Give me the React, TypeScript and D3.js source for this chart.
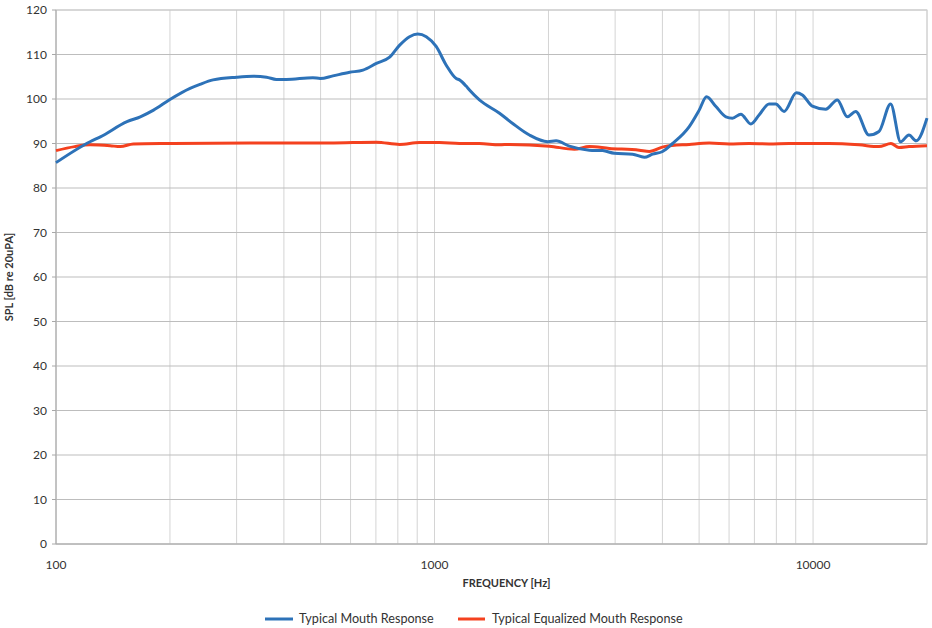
import React from 'react';
import * as d3 from 'd3';

// Typical mouth response (blue) — frequency [Hz], SPL [dB]
const mouthFreq = [
  100, 123, 131, 154, 167, 181, 200, 226, 240, 260, 300, 332, 360, 382, 406,
  477, 499, 539, 597, 647, 702, 761, 809, 859, 903, 951, 1010, 1074, 1141,
  1164, 1212, 1237, 1314, 1485, 1609, 1781, 1991, 2095, 2271, 2564, 2781,
  2986, 3337, 3583, 3767, 4003, 4255, 4709, 5003, 5231, 5539, 5885, 6125,
  6445, 6848, 7202, 7652, 7970, 8386, 9036, 9372, 9958, 10803, 11591, 12316,
  12963, 14053, 14933, 16032, 17033, 17919, 18733, 20000,
];
const mouthSpl = [
  85.7, 90.4, 91.5, 94.9, 96.0, 97.5, 99.9, 102.4, 103.3, 104.3, 104.9, 105.1,
  104.9, 104.4, 104.4, 104.8, 104.6, 105.2, 106.0, 106.5, 108.0, 109.4, 112.1,
  114.0, 114.6, 114.0, 111.8, 107.6, 104.6, 104.3, 102.9, 102.0, 99.8, 96.8,
  94.5, 91.9, 90.4, 90.6, 89.4, 88.5, 88.4, 87.8, 87.6, 86.9, 87.6, 88.2,
  90.0, 93.8, 97.5, 100.5, 98.3, 96.0, 95.7, 96.6, 94.4, 96.4, 98.9, 98.9,
  97.2, 101.4, 100.9, 98.4, 97.7, 99.8, 96.0, 97.2, 91.9, 92.7, 98.9, 90.4,
  91.9, 90.6, 95.7,
];

// Typical equalized mouth response (red)
const eqFreq = [
  100, 112, 123, 139, 148, 160, 200, 325, 528, 702, 809, 913, 1031, 1164,
  1314, 1485, 1577, 2012, 2341, 2564, 2896, 3474, 3692, 4045, 4709, 5316,
  6003, 6779, 7652, 8644, 11020, 13224, 14933, 16063, 16860, 17919, 20000,
];
const eqSpl = [
  88.4, 89.3, 89.7, 89.5, 89.3, 89.9, 90.0, 90.1, 90.1, 90.3, 89.8, 90.2,
  90.2, 90.0, 90.0, 89.7, 89.8, 89.4, 88.7, 89.3, 88.9, 88.5, 88.2, 89.3,
  89.8, 90.1, 89.9, 90.0, 89.9, 90.0, 90.0, 89.7, 89.3, 90.0, 89.1, 89.3,
  89.5,
];

const yTicks = [0, 10, 20, 30, 40, 50, 60, 70, 80, 90, 100, 110, 120];
const xLabels = [100, 1000, 10000];
const seriesNames = ['Typical Mouth Response', 'Typical Equalized Mouth Response'];
const seriesColors = ['#2d72b8', '#f4411f'];

const W = 932;
const H = 628;
const margin = { left: 56, right: 5, top: 10, bottom: 84 };
const FONT = 'Lato, "Open Sans", sans-serif';

const App: React.FC = () => {
  const x = d3
    .scaleLog()
    .domain([100, 20000])
    .range([margin.left, W - margin.right]);
  const y = d3
    .scaleLinear()
    .domain([0, 120])
    .range([H - margin.bottom, margin.top]);

  // minor vertical gridlines: 100..900, 1000..9000, 10000..20000
  const vGrid: number[] = [];
  [100, 1000, 10000].forEach((dec) => {
    for (let k = 1; k <= 9; k++) {
      const f = dec * k;
      if (f <= 20000) vGrid.push(f);
    }
  });

  const line = d3
    .line<[number, number]>()
    .x((d) => x(d[0]))
    .y((d) => y(d[1]))
    .curve(d3.curveMonotoneX);

  const mouth = mouthFreq.map((f, i) => [f, mouthSpl[i]] as [number, number]);
  const eq = eqFreq.map((f, i) => [f, eqSpl[i]] as [number, number]);

  const [x0, x1] = x.range();
  const [y0, y1] = y.range();

  return (
    <svg
      width={W}
      height={H}
      style={{ position: 'absolute', left: 0, top: 0, background: '#fff' }}
      fontFamily={FONT}
    >
      {/* vertical gridlines */}
      {vGrid.map((f) => (
        <line key={'v' + f} x1={x(f)} x2={x(f)} y1={y1} y2={y0} stroke="#d4d4d4" strokeWidth={1} />
      ))}
      {/* horizontal gridlines */}
      {yTicks.map((t) => (
        <line key={'h' + t} x1={x0} x2={x1} y1={y(t)} y2={y(t)} stroke="#bdbdbd" strokeWidth={1} />
      ))}
      {/* plot border */}
      <rect x={x0} y={y1} width={x1 - x0} height={y0 - y1} fill="none" stroke="#d0d0d0" />
      <line x1={x0} x2={x0} y1={y1} y2={y0} stroke="#a8a8a8" />
      <line x1={x0} x2={x1} y1={y0} y2={y0} stroke="#a8a8a8" />

      {/* y ticks */}
      {yTicks.map((t) => (
        <g key={'yt' + t}>
          <line x1={x0 - 4} x2={x0} y1={y(t)} y2={y(t)} stroke="#a8a8a8" />
          <text x={x0 - 9} y={y(t)} dy="0.35em" textAnchor="end" fontSize={12} fill="#333">
            {t}
          </text>
        </g>
      ))}
      {/* x labels */}
      {xLabels.map((f) => (
        <text key={'xl' + f} x={x(f)} y={y0 + 25} textAnchor="middle" fontSize={12} fill="#333">
          {f}
        </text>
      ))}

      {/* axis titles */}
      <text x={(x0 + x1) / 2 + 15} y={y0 + 43} textAnchor="middle" fontSize={11} fontWeight="bold" fill="#333">
        FREQUENCY [Hz]
      </text>
      <text
        transform={`translate(13, ${(y0 + y1) / 2}) rotate(-90)`}
        textAnchor="middle"
        fontSize={11}
        fontWeight="bold"
        fill="#333"
      >
        SPL [dB re 20uPA]
      </text>

      {/* series */}
      <path d={line(eq) ?? ''} fill="none" stroke={seriesColors[1]} strokeWidth={3} strokeLinejoin="round" />
      <path d={line(mouth) ?? ''} fill="none" stroke={seriesColors[0]} strokeWidth={3} strokeLinejoin="round" />

      {/* legend */}
      <g fontSize={12.6} fill="#333">
        <line x1={265} x2={293} y1={619} y2={619} stroke={seriesColors[0]} strokeWidth={3} />
        <text x={299} y={619} dy="0.35em">{seriesNames[0]}</text>
        <line x1={458} x2={485} y1={619} y2={619} stroke={seriesColors[1]} strokeWidth={3} />
        <text x={492} y={619} dy="0.35em">{seriesNames[1]}</text>
      </g>
    </svg>
  );
};

export default App;
